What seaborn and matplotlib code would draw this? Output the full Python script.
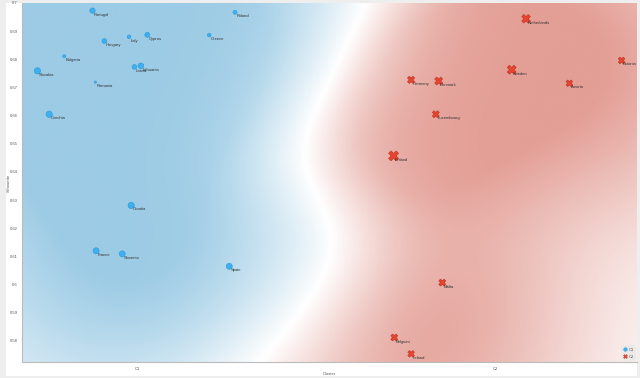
import matplotlib
matplotlib.use("Agg")
import matplotlib.pyplot as plt
import numpy as np
import pandas as pd
import seaborn as sns
from matplotlib.colors import LinearSegmentedColormap
from matplotlib.lines import Line2D
from matplotlib.patches import Rectangle

# cluster C1
C1_COUNTRIES = ["Portugal", "Poland", "Hungary", "Italy", "Cyprus", "Greece",
                "Bulgaria", "Slovakia", "Latvia", "Lithuania", "Romania",
                "Czechia", "Croatia", "France", "Slovenia", "Spain"]
C1_JITTER = [-0.126, 0.272, -0.093, -0.024, 0.027, 0.200, -0.205, -0.280,
             -0.009, 0.009, -0.118, -0.247, -0.018, -0.116, -0.043, 0.256]
C1_SILHOUETTE = [0.6973, 0.6967, 0.6865, 0.6880, 0.6887, 0.6886, 0.6811,
                 0.6759, 0.6773, 0.6777, 0.6719, 0.6605, 0.6281, 0.6120,
                 0.6109, 0.6065]
C1_WEIGHT = [14.6, 8.3, 11.5, 7.1, 13.0, 7.1, 4.7, 20.6, 11.5, 16.8, 2.7,
             20.6, 20.6, 18.7, 18.7, 18.7]

# cluster C2
C2_COUNTRIES = ["Netherlands", "Estonia", "Germany", "Denmark", "Sweden",
                "Austria", "Luxembourg", "Finland", "Malta", "Belgium",
                "Ireland"]
C2_JITTER = [1.085, 1.352, 0.764, 0.841, 1.045, 1.206, 0.833, 0.715, 0.851,
             0.717, 0.764]
C2_SILHOUETTE = [0.6944, 0.6796, 0.6727, 0.6723, 0.6763, 0.6715, 0.6605,
                 0.6457, 0.6007, 0.5812, 0.5754]
C2_WEIGHT = [39.0, 23.0, 27.6, 33.0, 42.0, 23.0, 25.4, 52.0, 25.4, 25.4,
             23.0]

CLUSTERS = ["C1", "C2"]
Y_TICKS = [0.58, 0.59, 0.6, 0.61, 0.62, 0.63, 0.64, 0.65, 0.66, 0.67,
           0.68, 0.69, 0.7]

XLIM = (-0.323, 1.395)
YLIM = (0.5725, 0.7)
BLUE = "#3eaff0"
RED = "#e8442f"
TXT = "#555555"


def density(gx, gy, xs, ys, bw_x, bw_y):
    d = np.zeros_like(gx)
    for x, y in zip(xs, ys):
        d += np.exp(-0.5 * (((gx - x) / bw_x) ** 2 + ((gy - y) / bw_y) ** 2))
    return d


def main() -> None:
    df = pd.concat([
        pd.DataFrame({"country": C1_COUNTRIES, "x": C1_JITTER,
                      "silhouette": C1_SILHOUETTE, "weight": C1_WEIGHT,
                      "cluster": "C1"}),
        pd.DataFrame({"country": C2_COUNTRIES, "x": C2_JITTER,
                      "silhouette": C2_SILHOUETTE, "weight": C2_WEIGHT,
                      "cluster": "C2"}),
    ], ignore_index=True)

    sns.set_style("white")
    plt.rcParams["font.family"] = ["Liberation Sans", "DejaVu Sans"]

    fig = plt.figure(figsize=(6.4, 3.78), dpi=100, facecolor="#eeeeee")
    fig.patches.append(Rectangle((6 / 640, 2 / 378), 631 / 640, 373.3 / 378,
                                 transform=fig.transFigure, facecolor="white",
                                 edgecolor="none", zorder=-10))
    ax = fig.add_axes([22 / 640, 16 / 378, 615 / 640, 359 / 378])

    # soft decision surface from the two clusters
    gx, gy = np.meshgrid(np.linspace(*XLIM, 400), np.linspace(*YLIM, 240))
    c1 = df[df.cluster == "C1"]
    c2 = df[df.cluster == "C2"]
    d1 = density(gx, gy, c1.x, c1.silhouette, 0.28, 0.023)
    d2 = density(gx, gy, c2.x, c2.silhouette, 0.28, 0.023)
    side = np.tanh(0.5 * np.log((1.6 * d1 + 1e-9) / (d2 + 1e-9)))
    n1 = density(gx, gy, c1.x, c1.silhouette, 0.21, 0.027)
    n2 = density(gx, gy, c2.x, c2.silhouette, 0.21, 0.027)
    strength = np.clip((n1 + n2) / 3.0, 0, 1) ** 0.4
    z = side * strength
    cmap = LinearSegmentedColormap.from_list(
        "rwb", ["#e39e95", "#ffffff", "#9ccbe5"])
    ax.imshow(z, extent=[*XLIM, *YLIM], origin="lower", aspect="auto",
              cmap=cmap, vmin=-1, vmax=1, interpolation="bilinear", zorder=0)

    sns.scatterplot(data=c1, x="x", y="silhouette", size="weight",
                    sizes={w: w for w in c1.weight}, color=BLUE, marker="o",
                    edgecolor="#2b9ad6", linewidth=0.4, legend=False, ax=ax,
                    zorder=3)
    sns.scatterplot(data=c2, x="x", y="silhouette", size="weight",
                    sizes={w: w for w in c2.weight}, color=RED, marker="X",
                    edgecolor="#b93220", linewidth=0.4, legend=False, ax=ax,
                    zorder=3)

    for _, r in df.iterrows():
        ax.annotate(r.country, (r.x, r.silhouette), xytext=(1.0, -2.9),
                    textcoords="offset points", ha="left", va="center",
                    fontsize=3, color="#333333", zorder=4)

    ax.set_xlim(*XLIM)
    ax.set_ylim(*YLIM)
    ax.set_xticks([0, 1])
    ax.set_xticklabels(CLUSTERS)
    ax.set_yticks(Y_TICKS)
    ax.set_yticklabels([f"{t:g}" for t in Y_TICKS])
    ax.tick_params(axis="x", length=2.5, width=0.5, color="#bbbbbb",
                   labelsize=3, labelcolor=TXT, pad=1)
    ax.tick_params(axis="y", length=0, labelsize=3, labelcolor=TXT, pad=3)
    for s in ["top", "right"]:
        ax.spines[s].set_visible(False)
    for s in ["left", "bottom"]:
        ax.spines[s].set_color("#bbbbbb")
        ax.spines[s].set_linewidth(0.8)

    ax.set_xlabel("Cluster", fontsize=3, color=TXT)
    ax.xaxis.set_label_coords(0.5, -0.029)
    ax.set_ylabel("Silhouette", fontsize=3, color=TXT)
    ax.yaxis.set_label_coords(-0.0187, 0.5)

    handles = [
        Line2D([], [], marker="o", linestyle="", markersize=2.6,
               markerfacecolor=BLUE, markeredgecolor="#2b9ad6",
               markeredgewidth=0.3),
        Line2D([], [], marker="X", linestyle="", markersize=2.8,
               markerfacecolor=RED, markeredgecolor="#b93220",
               markeredgewidth=0.3),
    ]
    leg = ax.legend(handles, CLUSTERS, loc="lower right", fontsize=3,
                    frameon=True, facecolor="#e8e8e8", edgecolor="none",
                    framealpha=0.7, handlelength=0.8, handletextpad=0.3,
                    borderpad=0.6, labelspacing=0.7, borderaxespad=0.2)
    for t in leg.get_texts():
        t.set_color(TXT)

    fig.savefig("out.png", dpi=100, facecolor=fig.get_facecolor())
    plt.close(fig)


if __name__ == "__main__":
    main()
